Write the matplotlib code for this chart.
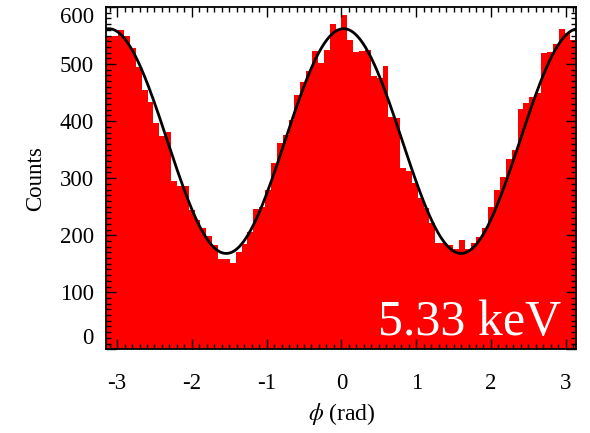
import numpy as np
import matplotlib
matplotlib.use("Agg")
import matplotlib.pyplot as plt
from matplotlib.ticker import MultipleLocator

# modulation histogram: 80 equal bins spanning -pi .. pi
counts = [
    549, 549, 559, 549, 529, 494, 454, 433, 396, 374,
    381, 295, 286, 287, 245, 226, 212, 198, 182, 159,
    159, 151, 170, 184, 206, 246, 250, 279, 326, 361,
    375, 402, 445, 469, 488, 523, 501, 524, 570, 561,
    586, 543, 522, 523, 524, 479, 476, 496, 408, 405,
    318, 312, 291, 265, 247, 221, 186, 186, 182, 175,
    192, 175, 187, 196, 212, 250, 280, 302, 333, 349,
    422, 432, 442, 449, 519, 522, 536, 561, 554, 542,
]
n_bins = 80

# cos^2 modulation fit: mean + amp * cos(2 (phi - phase))
fit_mean = 365.0
fit_amp = 197.0
fit_phase = 0.03

energy_label = "5.33 keV"
x_ticks = [-3, -2, -1, 0, 1, 2, 3]
y_ticks = [0, 100, 200, 300, 400, 500, 600]

plt.rcParams["font.family"] = ["Liberation Serif", "DejaVu Serif"]
plt.rcParams["mathtext.fontset"] = "stix"

fig = plt.figure(figsize=(5.9, 4.33), dpi=100)
ax = fig.add_axes([0.1805, 0.1933, 0.7963, 0.7905])

edges = np.linspace(-np.pi, np.pi, n_bins + 1)
ax.stairs(counts, edges, fill=True, color="#ff0000", linewidth=0)

phi = np.linspace(-np.pi, np.pi, 500)
ax.plot(phi, fit_mean + fit_amp * np.cos(2 * (phi - fit_phase)),
        color="black", lw=2.0)

ax.set_xlim(-np.pi, np.pi)
ax.set_ylim(0, 600)
ax.set_xticks(x_ticks)
ax.set_xticklabels([str(t) for t in x_ticks])
ax.set_yticks(y_ticks)
ax.xaxis.set_minor_locator(MultipleLocator(0.1))
ax.yaxis.set_minor_locator(MultipleLocator(10))
ax.tick_params(which="both", direction="in", top=True, right=True,
               width=1.0, color="black")
ax.tick_params(which="major", length=7, labelsize=16.5)
ax.tick_params(axis="x", which="major", pad=17)
ax.tick_params(axis="y", which="major", pad=9)
ax.tick_params(which="minor", length=3.5)
for s in ax.spines.values():
    s.set_linewidth(1.3)

# keep the end labels inside the frame like the original
ylabels = ax.get_yticklabels()
ylabels[0].set_va("bottom")
ylabels[-1].set_va("top")

ax.set_xlabel(r"$\phi$ (rad)", fontsize=17, labelpad=5)
ax.set_ylabel("Counts", fontsize=16.5, labelpad=10)

ax.text(0.967, 0.042, energy_label, transform=ax.transAxes,
        ha="right", va="baseline", color="white", fontsize=36)

fig.savefig("out.png", dpi=100)
